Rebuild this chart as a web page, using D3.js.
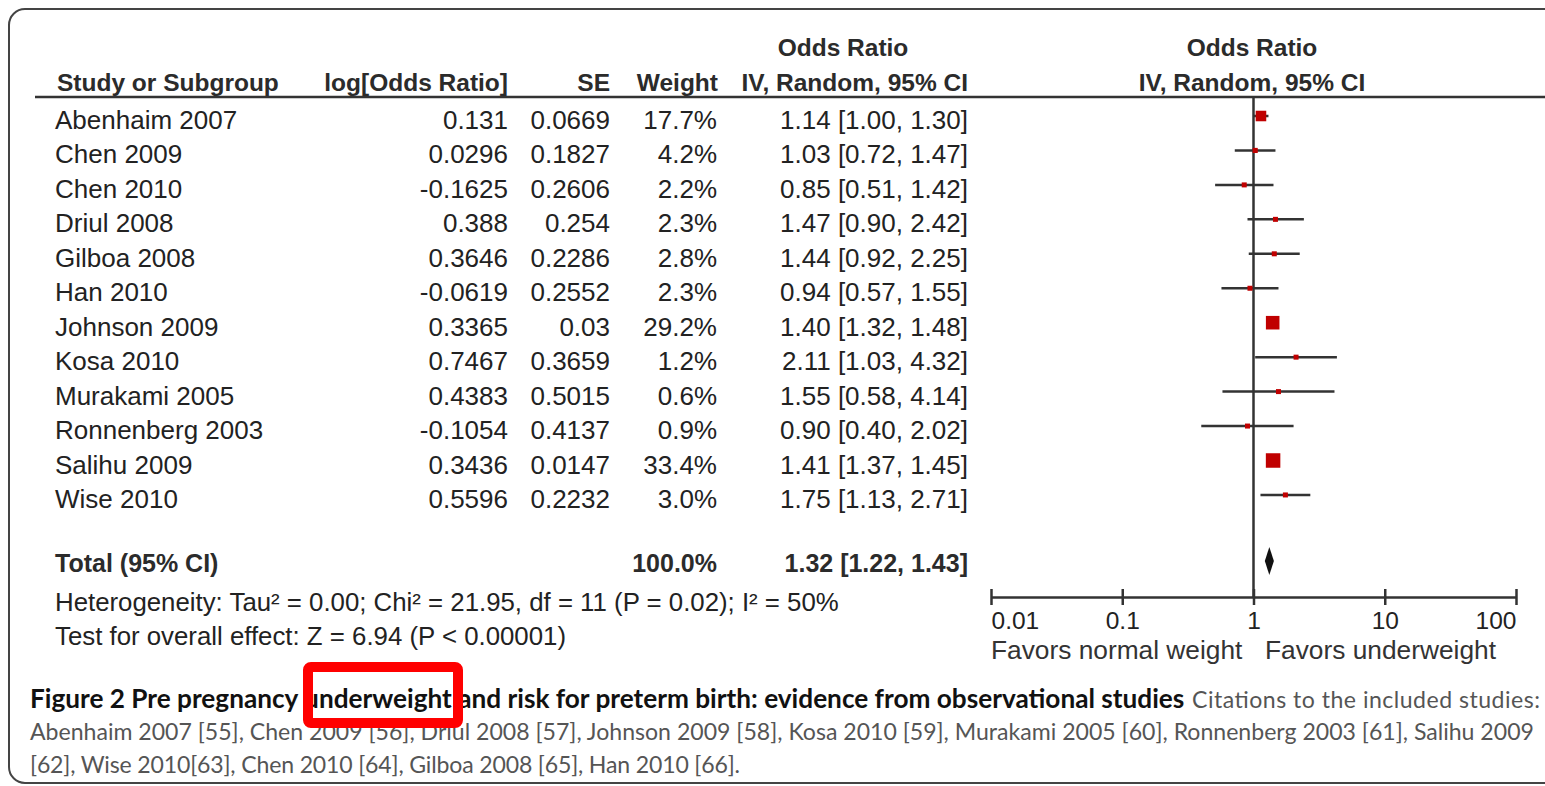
<!DOCTYPE html>
<html>
<head>
<meta charset="utf-8">
<script src="https://cdn.jsdelivr.net/npm/d3@7"></script>
<style>
  html, body { margin: 0; padding: 0; background: #fff; }
  svg { display: block; }
</style>
</head>
<body>
<div id="chart"></div>
<script>
// data
const studies = ['Abenhaim 2007', 'Chen 2009', 'Chen 2010', 'Driul 2008', 'Gilboa 2008', 'Han 2010',
  'Johnson 2009', 'Kosa 2010', 'Murakami 2005', 'Ronnenberg 2003', 'Salihu 2009', 'Wise 2010'];
const logOR = ['0.131', '0.0296', '-0.1625', '0.388', '0.3646', '-0.0619', '0.3365', '0.7467', '0.4383', '-0.1054', '0.3436', '0.5596'];
const seVals = ['0.0669', '0.1827', '0.2606', '0.254', '0.2286', '0.2552', '0.03', '0.3659', '0.5015', '0.4137', '0.0147', '0.2232'];
const weights = [17.7, 4.2, 2.2, 2.3, 2.8, 2.3, 29.2, 1.2, 0.6, 0.9, 33.4, 3.0];
const oddsRatio = [1.14, 1.03, 0.85, 1.47, 1.44, 0.94, 1.40, 2.11, 1.55, 0.90, 1.41, 1.75];
const ciLow = [1.00, 0.72, 0.51, 0.90, 0.92, 0.57, 1.32, 1.03, 0.58, 0.40, 1.37, 1.13];
const ciHigh = [1.30, 1.47, 1.42, 2.42, 2.25, 1.55, 1.48, 4.32, 4.14, 2.02, 1.45, 2.71];
const total = { or: 1.32, lo: 1.22, hi: 1.43, weight: 100.0 };
const tickValues = [0.01, 0.1, 1, 10, 100];
const tickLabels = ['0.01', '0.1', '1', '10', '100'];

const W = 1545, H = 786;
const svg = d3.select('#chart').append('svg').attr('width', W).attr('height', H);

const font = 'Liberation Sans, Arial, sans-serif';
const ink = '#222';

// frame
svg.append('rect')
  .attr('x', 9).attr('y', 9).attr('width', 1620).attr('height', 774)
  .attr('rx', 16).attr('fill', 'none').attr('stroke', '#444').attr('stroke-width', 2);

const fmt2 = d3.format('.2f');
const rowY = d3.scaleLinear().domain([0, 1]).range([129, 129 + 34.45]);

// header
const head = svg.append('g').attr('font-family', font).attr('font-weight', 'bold')
  .attr('font-size', 24.5).attr('fill', '#2b2b2b');
head.append('text').attr('x', 57).attr('y', 91).text('Study or Subgroup');
head.append('text').attr('x', 508).attr('y', 91).attr('text-anchor', 'end').text('log[Odds Ratio]');
head.append('text').attr('x', 610).attr('y', 91).attr('text-anchor', 'end').text('SE');
head.append('text').attr('x', 718).attr('y', 91).attr('text-anchor', 'end').text('Weight');
head.append('text').attr('x', 968).attr('y', 91).attr('text-anchor', 'end').text('IV, Random, 95% CI');
head.append('text').attr('x', 843).attr('y', 56).attr('text-anchor', 'middle').text('Odds Ratio');
head.append('text').attr('x', 1252).attr('y', 56).attr('text-anchor', 'middle').text('Odds Ratio');
head.append('text').attr('x', 1252).attr('y', 91).attr('text-anchor', 'middle').text('IV, Random, 95% CI');

svg.append('line').attr('x1', 35).attr('x2', W).attr('y1', 97).attr('y2', 97)
  .attr('stroke', '#333').attr('stroke-width', 2.5);

// table rows
const body = svg.append('g').attr('font-family', font).attr('font-size', 26).attr('fill', ink);
const rows = body.selectAll('g.row').data(studies).enter().append('g').attr('class', 'row')
  .attr('transform', (d, i) => `translate(0, ${rowY(i)})`);
rows.append('text').attr('x', 55).text(d => d);
rows.append('text').attr('x', 508).attr('text-anchor', 'end').text((d, i) => logOR[i]);
rows.append('text').attr('x', 610).attr('text-anchor', 'end').text((d, i) => seVals[i]);
rows.append('text').attr('x', 717).attr('text-anchor', 'end').text((d, i) => d3.format('.1f')(weights[i]) + '%');
rows.append('text').attr('x', 968).attr('text-anchor', 'end')
  .text((d, i) => `${fmt2(oddsRatio[i])} [${fmt2(ciLow[i])}, ${fmt2(ciHigh[i])}]`);

const totY = 572;
const tot = svg.append('g').attr('font-family', font).attr('font-size', 25).attr('font-weight', 'bold').attr('fill', '#2b2b2b');
tot.append('text').attr('x', 55).attr('y', totY).text('Total (95% CI)');
tot.append('text').attr('x', 717).attr('y', totY).attr('text-anchor', 'end').text(d3.format('.1f')(total.weight) + '%');
tot.append('text').attr('x', 968).attr('y', totY).attr('text-anchor', 'end')
  .text(`${fmt2(total.or)} [${fmt2(total.lo)}, ${fmt2(total.hi)}]`);

const notes = svg.append('g').attr('font-family', font).attr('font-size', 25.8).attr('fill', ink);
notes.append('text').attr('x', 55).attr('y', 611)
  .text('Heterogeneity: Tau\u00b2 = 0.00; Chi\u00b2 = 21.95, df = 11 (P = 0.02); I\u00b2 = 50%');
notes.append('text').attr('x', 55).attr('y', 645)
  .text('Test for overall effect: Z = 6.94 (P < 0.00001)');

// forest plot
const x = d3.scaleLog().domain([0.01, 100]).range([991, 1516]);
const axisY = 597;
const size = d3.scaleSqrt().domain([0, 33.4]).range([0, 14.5]);

svg.append('line').attr('x1', x(1)).attr('x2', x(1)).attr('y1', 97).attr('y2', axisY)
  .attr('stroke', '#333').attr('stroke-width', 2.5);

const forest = svg.append('g');
const marks = forest.selectAll('g.mark').data(studies).enter().append('g').attr('class', 'mark')
  .attr('transform', (d, i) => `translate(0, ${rowY(i) - 13})`);
marks.append('line')
  .attr('x1', (d, i) => x(ciLow[i])).attr('x2', (d, i) => x(ciHigh[i]))
  .attr('stroke', '#333').attr('stroke-width', 2.5);
marks.append('rect')
  .attr('x', (d, i) => x(oddsRatio[i]) - Math.max(size(weights[i]), 5) / 2)
  .attr('y', (d, i) => -Math.max(size(weights[i]), 5) / 2)
  .attr('width', (d, i) => Math.max(size(weights[i]), 5))
  .attr('height', (d, i) => Math.max(size(weights[i]), 5))
  .attr('fill', '#c00000');

const dy = 561;
forest.append('path')
  .attr('d', `M${x(total.lo)},${dy} L${x(total.or)},${dy - 14} L${x(total.hi)},${dy} L${x(total.or)},${dy + 14} Z`)
  .attr('fill', '#111');

// axis
const axis = d3.axisBottom(x).tickValues(tickValues).tickFormat((d, i) => tickLabels[i]).tickSizeOuter(0);
const ax = svg.append('g').attr('transform', `translate(0, ${axisY})`).call(axis);
ax.select('.domain').attr('stroke', '#333').attr('stroke-width', 2.5);
ax.selectAll('.tick line').attr('y1', -8).attr('y2', 8).attr('stroke', '#333').attr('stroke-width', 2.5);
ax.selectAll('.tick text')
  .attr('font-family', font).attr('font-size', 24.5).attr('fill', ink)
  .attr('y', 15).attr('dy', '0.71em')
  .attr('text-anchor', (d, i) => i === 0 ? 'start' : (i === tickValues.length - 1 ? 'end' : 'middle'));

const fav = svg.append('g').attr('font-family', font).attr('font-size', 26.3).attr('fill', '#333');
fav.append('text').attr('x', 991).attr('y', 659).text('Favors normal weight');
fav.append('text').attr('x', 1265).attr('y', 659).text('Favors underweight');

// caption; font size fitted to the width each line takes in the figure
function fit(sel, width) {
  const fs = +sel.attr('font-size');
  const w = sel.node().getComputedTextLength();
  sel.attr('font-size', fs * width / w);
  return fs * width / w;
}
const cap = svg.append('g').attr('font-family', 'Lato, sans-serif');
const c1 = cap.append('text').attr('x', 30).attr('y', 708).attr('font-weight', 'bold').attr('fill', '#111')
  .attr('font-size', 22)
  .text('Figure 2 Pre pregnancy underweight and risk for preterm birth: evidence from observational studies');
fit(c1, 1155);
const c3 = cap.append('text').attr('x', 30).attr('y', 740).attr('fill', '#555').attr('font-size', 22)
  .text('Abenhaim 2007 [55], Chen 2009 [56], Driul 2008 [57], Johnson 2009 [58], Kosa 2010 [59], Murakami 2005 [60], Ronnenberg 2003 [61], Salihu 2009');
const fsN = fit(c3, 1505);
cap.append('text').attr('x', 1192).attr('y', 708).attr('fill', '#555').attr('font-size', fsN)
  .attr('textLength', 348).attr('lengthAdjust', 'spacing')
  .text('Citations to the included studies:');
cap.append('text').attr('x', 30).attr('y', 773).attr('fill', '#555').attr('font-size', fsN)
  .attr('textLength', 710).attr('lengthAdjust', 'spacing')
  .text('[62], Wise 2010[63], Chen 2010 [64], Gilboa 2008 [65], Han 2010 [66].');

// highlight box
svg.append('rect').attr('x', 308).attr('y', 667).attr('width', 150).attr('height', 56)
  .attr('rx', 3).attr('fill', 'none').attr('stroke', '#ff0000').attr('stroke-width', 10);
</script>
</body>
</html>
